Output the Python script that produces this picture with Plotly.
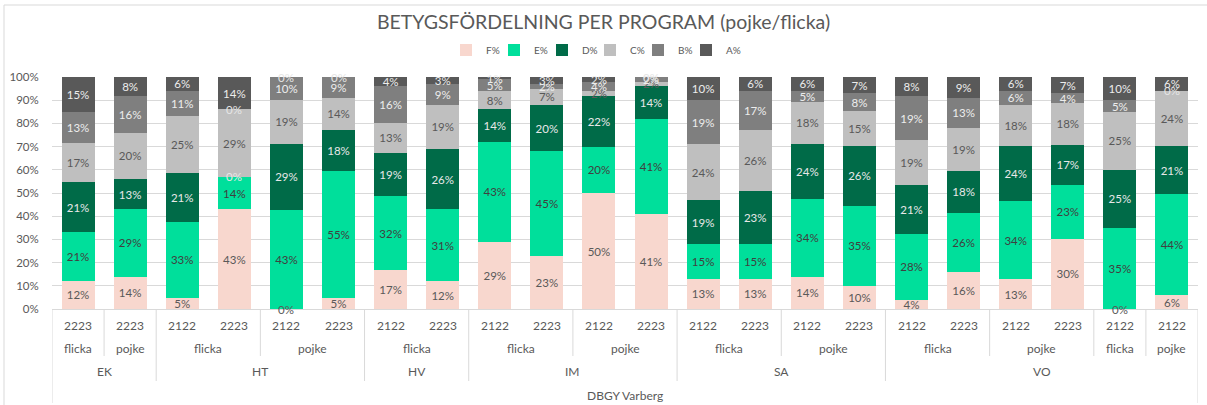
import plotly.graph_objects as go

# ---- data ----
years = ["2223", "2223", "2122", "2223", "2122", "2223", "2122", "2223", "2122", "2223", "2122",
         "2223", "2122", "2223", "2122", "2223", "2122", "2223", "2122", "2223", "2122", "2122"]
genders = ["flicka", "pojke", "flicka", "flicka", "pojke", "pojke", "flicka", "flicka", "flicka", "flicka", "pojke",
           "pojke", "flicka", "flicka", "pojke", "pojke", "flicka", "flicka", "pojke", "pojke", "flicka", "pojke"]
programs = ["EK", "EK", "HT", "HT", "HT", "HT", "HV", "HV", "IM", "IM", "IM",
            "IM", "SA", "SA", "SA", "SA", "VO", "VO", "VO", "VO", "VO", "VO"]
school = "DBGY Varberg"

F = [12, 14, 5, 43, 0, 5, 17, 12, 29, 23, 50, 41, 13, 13, 14, 10, 4, 16, 13, 30, 0, 6]
E = [21, 29, 33, 14, 43, 55, 32, 31, 43, 45, 20, 41, 15, 15, 34, 35, 28, 26, 34, 23, 35, 44]
D = [21, 13, 21, 0, 29, 18, 19, 26, 14, 20, 22, 14, 19, 23, 24, 26, 21, 18, 24, 17, 25, 21]
C = [17, 20, 25, 29, 19, 14, 13, 19, 8, 7, 2, 2, 24, 26, 18, 15, 19, 19, 18, 18, 25, 24]
B = [13, 16, 11, 0, 10, 9, 16, 9, 5, 2, 4, 2, 19, 17, 5, 8, 19, 13, 6, 4, 5, 0]
A = [15, 8, 6, 14, 0, 0, 4, 3, 1, 3, 2, 0, 10, 6, 6, 7, 8, 9, 6, 7, 10, 6]
y_ticks = list(range(0, 101, 10))

series = [
    ("F%", F, "#F8D7CE", "#595959"),
    ("E%", E, "#00DF9B", "#404040"),
    ("D%", D, "#006B48", "#E8E8E8"),
    ("C%", C, "#BFBFBF", "#595959"),
    ("B%", B, "#7F7F7F", "#EDEDED"),
    ("A%", A, "#595959", "#EDEDED"),
]

FONT = "Lato"
TXT = "#595959"
GRID = "#D9D9D9"
LBL = 11.5

# pixel geometry helpers
L, R, T, Bm = 52, 9, 77, 96
W, H = 1207, 405
PW = W - L - R
PH = H - T - Bm


def py(p):
    return (H - Bm - p) / PH


def px(p):
    return (p - L) / PW


x = list(range(len(years)))
totals = [sum(s[1][i] for s in series) for i in x]

# left edge (pixels) of each small legend box
LEG_LEFT0, LEG_STEP = 446, 48

fig = go.Figure()
annotations = []
legends = {}
cum = [0.0] * len(x)
for k, (name, vals, col, tcol) in enumerate(series):
    lname = f"legend{k + 2}"
    fig.add_trace(go.Bar(
        name=name, x=x, y=vals, legend=lname,
        marker=dict(color=col, line=dict(width=0)),
        text=[f"{v}%" for v in vals],
        texttemplate="%{text}",
        textposition="inside",
        insidetextanchor="middle",
        textangle=0,
        constraintext="none",
        insidetextfont=dict(family=FONT, size=LBL, color=tcol),
        cliponaxis=False,
    ))
    legends[lname] = dict(orientation="h", x=px(LEG_LEFT0 + LEG_STEP * k), xanchor="left", y=py(50),
                          yanchor="middle", font=dict(family=FONT, size=10, color=TXT),
                          itemwidth=30, bgcolor="rgba(0,0,0,0)", borderwidth=0)
    # zero-height segments still carry a "0%" label in the reference
    for i, v in enumerate(vals):
        if v == 0:
            annotations.append(dict(x=i, y=cum[i] / totals[i] * 100, xref="x", yref="y", text="0%",
                                    showarrow=False, xanchor="center", yanchor="middle",
                                    font=dict(family=FONT, size=LBL, color="#E6E6E6" if name != "F%" else TXT)))
        cum[i] += v


def runs(keys):
    out = []
    start = 0
    for i in range(1, len(keys) + 1):
        if i == len(keys) or keys[i] != keys[start]:
            out.append((start, i - 1))
            start = i
    return out


def cat_label(xv, ypx, text):
    return dict(x=xv, y=py(ypx), xref="x", yref="paper", text=text, showarrow=False,
                xanchor="center", yanchor="middle", font=dict(family=FONT, size=12, color=TXT))


for i, yv in enumerate(years):
    annotations.append(cat_label(i, 325, yv))
gkeys = [(p, g) for p, g in zip(programs, genders)]
for s, e in runs(gkeys):
    annotations.append(cat_label((s + e) / 2, 348, genders[s]))
for s, e in runs(programs):
    annotations.append(cat_label((s + e) / 2, 371, programs[s]))
annotations.append(cat_label((len(years) - 1) / 2, 395, school))

shapes = []
for i in range(len(years) - 1):
    if programs[i] != programs[i + 1]:
        yb = py(381)
    elif genders[i] != genders[i + 1]:
        yb = py(356)
    else:
        continue
    shapes.append(dict(type="line", xref="x", yref="paper", x0=i + 0.5, x1=i + 0.5, y0=0, y1=yb,
                       line=dict(color=GRID, width=1)))
for xe in (-0.5, len(years) - 0.5):
    shapes.append(dict(type="line", xref="x", yref="paper", x0=xe, x1=xe, y0=0, y1=py(403),
                       line=dict(color=GRID, width=1)))

# outer chart border
shapes.append(dict(type="rect", xref="paper", yref="paper", x0=px(4), x1=px(1220), y0=py(420), y1=py(5),
                   line=dict(color=GRID, width=1), fillcolor="rgba(0,0,0,0)", layer="below"))

fig.update_layout(
    width=W, height=H,
    barmode="stack", barnorm="percent", bargap=0.365,
    margin=dict(l=L, r=R, t=T, b=Bm, autoexpand=False),
    paper_bgcolor="white", plot_bgcolor="white",
    font=dict(family=FONT, color=TXT),
    title=dict(text="BETYGSFÖRDELNING PER PROGRAM (pojke/flicka)", x=0.5, xanchor="center",
               y=1 - 22 / H, yanchor="middle", font=dict(family=FONT, size=19.5, color=TXT)),
    xaxis=dict(range=[-0.5, len(years) - 0.5], showticklabels=False, showgrid=False, zeroline=False,
               showline=True, linecolor=GRID, linewidth=1, ticks=""),
    yaxis=dict(range=[0, 100.001], tickmode="array", tickvals=y_ticks, ticktext=[f"{v}%" for v in y_ticks],
               showgrid=True, gridcolor=GRID, gridwidth=1, zeroline=False, showline=False,
               ticks="outside", ticklen=10, tickcolor="rgba(0,0,0,0)",
               tickfont=dict(family=FONT, size=11.5, color=TXT)),
    annotations=annotations,
    shapes=shapes,
    **legends,
)

fig.write_html("out.html", config={"displayModeBar": False},
               post_script="document.body.style.margin='0';document.body.style.overflow='hidden';")
